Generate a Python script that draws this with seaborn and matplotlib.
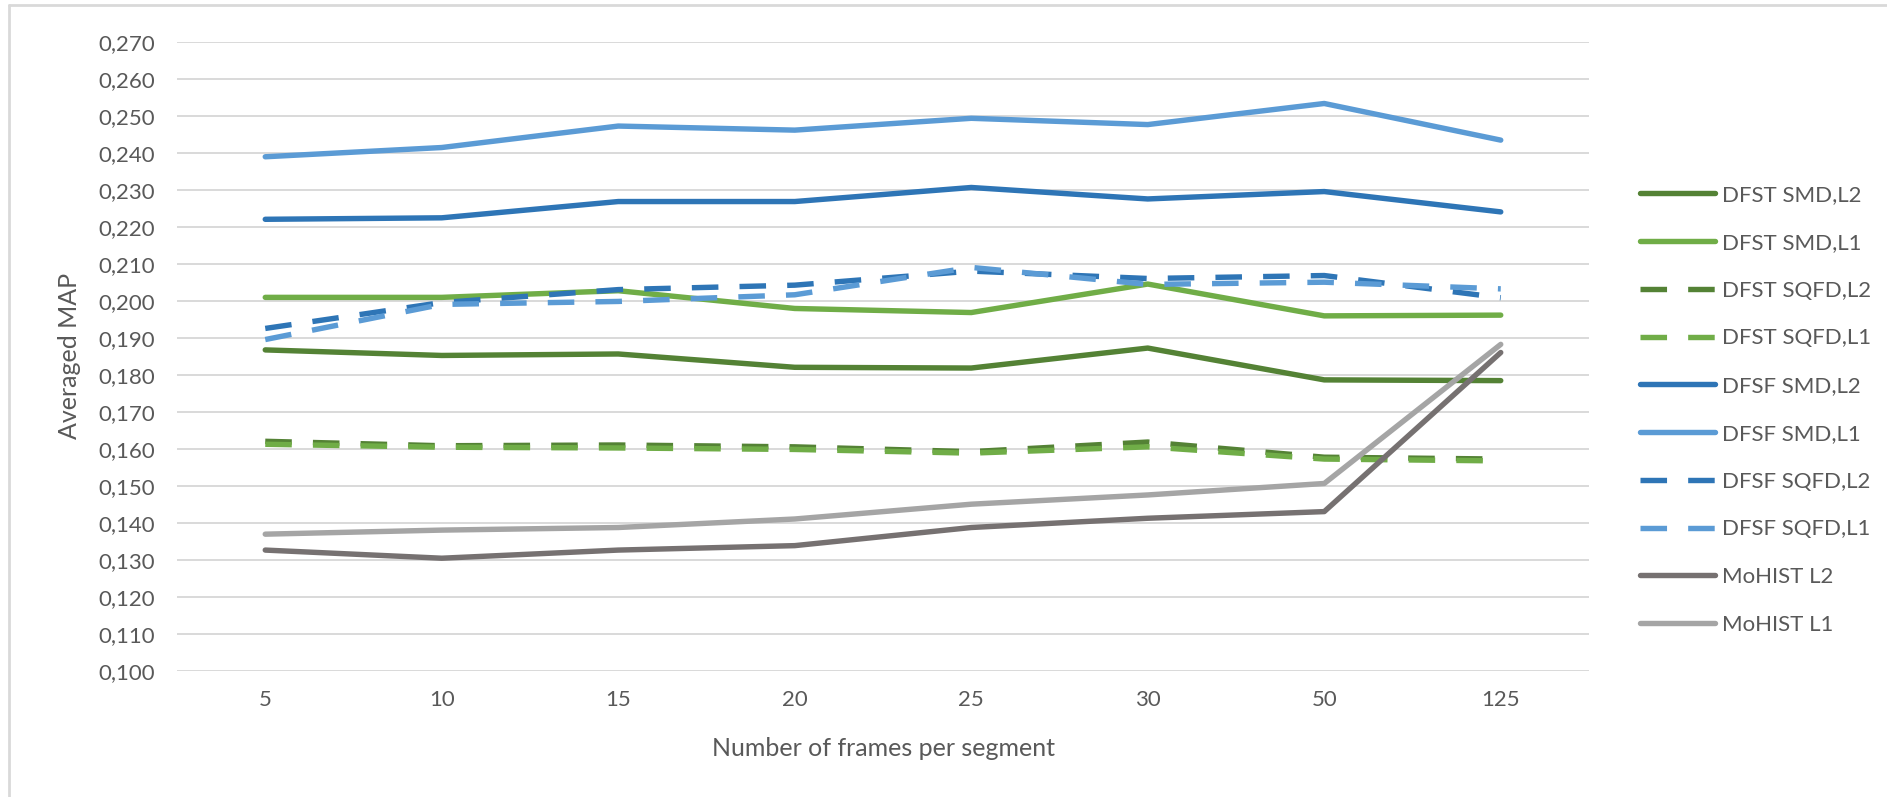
import matplotlib
matplotlib.use("Agg")
import matplotlib.pyplot as plt
from matplotlib.ticker import FuncFormatter, MultipleLocator
from matplotlib.lines import Line2D
import seaborn as sns

categories = ['5', '10', '15', '20', '25', '30', '50', '125']

dfst_smd_l2 = [0.1867, 0.1852, 0.1856, 0.1820, 0.1818, 0.1872, 0.1786, 0.1784]
dfst_smd_l1 = [0.2009, 0.2009, 0.2027, 0.1979, 0.1968, 0.2045, 0.1959, 0.1961]
dfst_sqfd_l2 = [0.1620, 0.1608, 0.1610, 0.1605, 0.1592, 0.1618, 0.1577, 0.1572]
dfst_sqfd_l1 = [0.1612, 0.1604, 0.1602, 0.1598, 0.1588, 0.1605, 0.1572, 0.1567]
dfsf_smd_l2 = [0.2220, 0.2224, 0.2268, 0.2268, 0.2306, 0.2275, 0.2295, 0.2240]
dfsf_smd_l1 = [0.2389, 0.2414, 0.2472, 0.2461, 0.2493, 0.2476, 0.2533, 0.2434]
dfsf_sqfd_l2 = [0.1925, 0.1995, 0.2030, 0.2042, 0.2080, 0.2060, 0.2068, 0.2008]
dfsf_sqfd_l1 = [0.1895, 0.1990, 0.1998, 0.2016, 0.2090, 0.2044, 0.2050, 0.2032]
mohist_l2 = [0.1326, 0.1304, 0.1326, 0.1338, 0.1387, 0.1412, 0.1430, 0.1860]
mohist_l1 = [0.1369, 0.1380, 0.1387, 0.1410, 0.1450, 0.1475, 0.1506, 0.1882]

series_names = ['DFST SMD,L2', 'DFST SMD,L1', 'DFST SQFD,L2', 'DFST SQFD,L1',
                'DFSF SMD,L2', 'DFSF SMD,L1', 'DFSF SQFD,L2', 'DFSF SQFD,L1',
                'MoHIST L2', 'MoHIST L1']
series_values = [dfst_smd_l2, dfst_smd_l1, dfst_sqfd_l2, dfst_sqfd_l1,
                 dfsf_smd_l2, dfsf_smd_l1, dfsf_sqfd_l2, dfsf_sqfd_l1,
                 mohist_l2, mohist_l1]
series_colors = ['#548235', '#70AD47', '#548235', '#70AD47',
                 '#2E75B6', '#5B9BD5', '#2E75B6', '#5B9BD5',
                 '#767171', '#A5A5A5']
series_dashed = [False, False, True, True, False, False, True, True, False, False]

sns.set_theme(style="white")
plt.rcParams['font.family'] = ['Lato', 'DejaVu Sans']
text_color = '#595959'

W, H = 1887, 797
fig = plt.figure(figsize=(W / 100, H / 100), dpi=100)
ax = fig.add_axes([177 / W, 1 - 670.7 / H, (1589 - 177) / W, (670.7 - 41.7) / H])

lw = 3.9
dash = (0, (4.9, 3.9))
handles = []
for name, vals, col, dashed in zip(series_names, series_values, series_colors, series_dashed):
    ls = dash if dashed else '-'
    sns.lineplot(x=categories, y=vals, ax=ax, color=col, linewidth=lw,
                 linestyle=ls, sort=False, solid_capstyle='round',
                 dash_capstyle='butt')
    handles.append(Line2D([0], [0], color=col, linewidth=lw, linestyle=ls,
                          solid_capstyle='round', dash_capstyle='butt'))

ax.set_xlim(-0.5, len(categories) - 0.5)
ax.set_ylim(0.100, 0.270)
ax.yaxis.set_major_locator(MultipleLocator(0.01))
ax.yaxis.set_major_formatter(FuncFormatter(lambda v, p: f"{v:.3f}".replace('.', ',')))
ax.grid(axis='y', color='#D9D9D9', linewidth=1.4)
ax.grid(axis='x', visible=False)
ax.set_axisbelow(True)
for s in ax.spines.values():
    s.set_visible(False)
ax.tick_params(axis='both', length=0, labelsize=16, labelcolor=text_color)
ax.tick_params(axis='y', pad=16)
ax.tick_params(axis='x', pad=14)

ax.set_xlabel('Number of frames per segment', fontsize=18, color=text_color, labelpad=19)
ax.set_ylabel('Averaged MAP', fontsize=18, color=text_color, labelpad=12)

fig.legend(handles, series_names, loc='center left',
           bbox_to_anchor=(1640 / W, 1 - 410 / H), frameon=False,
           fontsize=16, labelcolor=text_color, borderpad=0, borderaxespad=0,
           handlelength=3.38, handletextpad=0.3, labelspacing=1.25)

# chart frame (left and top edges visible)
fig.add_artist(Line2D([9 / W, 9 / W], [0, 1 - 5 / H], color='#D9D9D9', linewidth=2,
                      transform=fig.transFigure))
fig.add_artist(Line2D([9 / W, 1], [1 - 5 / H, 1 - 5 / H], color='#D9D9D9', linewidth=2,
                      transform=fig.transFigure))

fig.savefig('out.png', dpi=100, facecolor='white')
